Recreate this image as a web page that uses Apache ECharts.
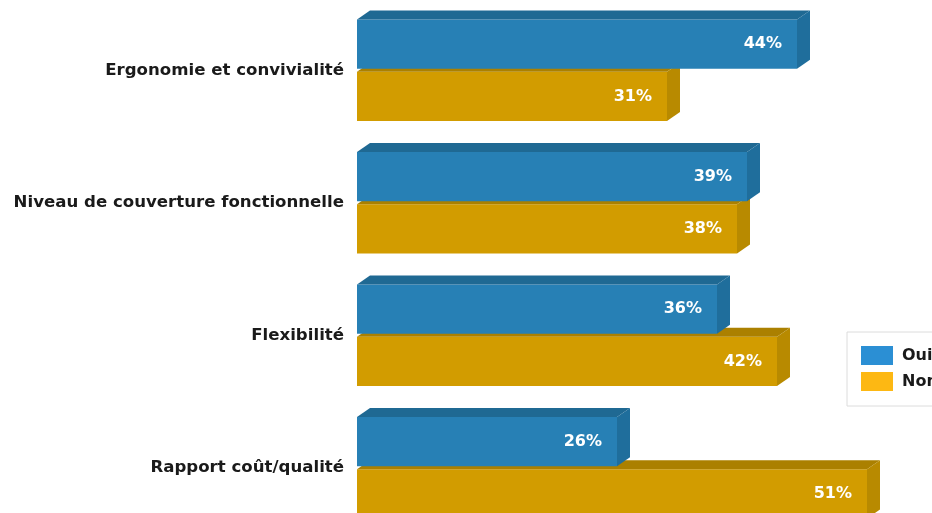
<!DOCTYPE html>
<html>
<head>
<meta charset="utf-8">
<script src="https://cdn.jsdelivr.net/npm/echarts@6/dist/echarts.min.js"></script>
<style>
html,body{margin:0;padding:0;background:#fff;overflow:hidden;width:932px;height:513px;}
#chart{width:932px;height:540px;}
</style>
</head>
<body>
<div id="chart"></div>
<script>
var categories = ['Ergonomie et convivialité', 'Niveau de couverture fonctionnelle', 'Flexibilité', 'Rapport coût/qualité'];
var seriesNames = ['Oui', 'Non'];
var ouiValues = [44, 39, 36, 26];
var nonValues = [31, 38, 42, 51];

var FONT = '"DejaVu Sans", sans-serif';
var palettes = {
  Oui: { front: '#2780b5', top: '#1f6993', side: '#1f6e9c', legend: '#2b8fd4' },
  Non: { front: '#d29c00', top: '#ab8000', side: '#b88a00', legend: '#fdb813' }
};
var DX = 13, DY = 9;

function makeRender(name, upper) {
  var pal = palettes[name];
  return function (params, api) {
    var v = api.value(0), ci = api.value(1);
    var s = api.coord([0, ci]);
    var e = api.coord([v, ci]);
    var band = api.size([0, 1])[1];
    var h = band * 0.372;
    var gap = band * 0.011;
    var x0 = s[0], x1 = e[0], c = s[1];
    var y0 = upper ? c - gap - h : c + gap;
    var y1 = y0 + h;
    return {
      type: 'group',
      children: [
        { type: 'rect', shape: { x: x0, y: y0, width: x1 - x0, height: h }, style: { fill: pal.front } },
        { type: 'polygon', shape: { points: [[x0, y0], [x0 + DX, y0 - DY], [x1 + DX, y0 - DY], [x1, y0]] }, style: { fill: pal.top } },
        { type: 'polygon', shape: { points: [[x1, y0], [x1 + DX, y0 - DY], [x1 + DX, y1 - DY], [x1, y1]] }, style: { fill: pal.side } },
        { type: 'text', style: { x: x1 - 15, y: (y0 + y1) / 2, text: v + '%', fill: '#ffffff', font: 'bold 16px ' + FONT, align: 'right', verticalAlign: 'middle' } }
      ]
    };
  };
}

var chart = echarts.init(document.getElementById('chart'), null, { renderer: 'canvas' });
chart.setOption({
  backgroundColor: '#ffffff',
  animation: false,
  grid: { left: 357, top: 4, width: 550, height: 530, containLabel: false },
  xAxis: { type: 'value', min: 0, max: 55, show: false },
  yAxis: {
    type: 'category', data: categories, inverse: true,
    axisLine: { show: false }, axisTick: { show: false }, splitLine: { show: false },
    axisLabel: { margin: 13, color: '#1a1a1a', fontWeight: 'bold', fontSize: 16.6, fontFamily: FONT }
  },
  legend: {
    data: seriesNames, orient: 'vertical', left: 847, top: 332,
    padding: [14, 14, 15, 14], itemWidth: 32, itemHeight: 19, itemGap: 7,
    borderColor: '#dcdcdc', borderWidth: 1, backgroundColor: '#fff',
    icon: 'rect',
    textStyle: { color: '#1a1a1a', fontWeight: 'bold', fontSize: 16, fontFamily: FONT, padding: [0, 0, 0, 4] }
  },
  series: [
    { name: 'Oui', type: 'custom', z: 3, itemStyle: { color: palettes.Oui.legend },
      data: ouiValues.map(function (v, i) { return [v, i]; }), encode: { x: 0, y: 1 },
      renderItem: makeRender('Oui', true) },
    { name: 'Non', type: 'custom', z: 2, itemStyle: { color: palettes.Non.legend },
      data: nonValues.map(function (v, i) { return [v, i]; }), encode: { x: 0, y: 1 },
      renderItem: makeRender('Non', false) }
  ]
});
</script>
</body>
</html>
